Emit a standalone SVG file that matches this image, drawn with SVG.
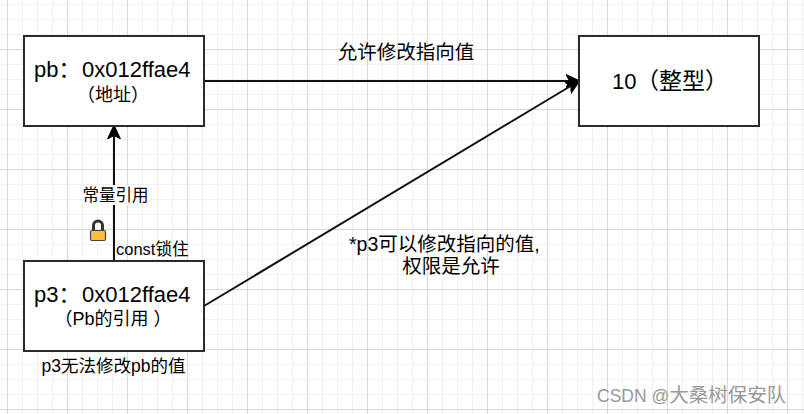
<svg xmlns="http://www.w3.org/2000/svg" width="804" height="414" viewBox="0 0 804 414">
<defs>
<pattern id="minor" width="15" height="15" patternUnits="userSpaceOnUse" x="7" y="4"><path d="M0.5 0V15M0 0.5H15" fill="none" stroke="#f1f1f1" stroke-width="1"/></pattern>
<pattern id="major" width="60" height="60" patternUnits="userSpaceOnUse" x="7" y="49"><path d="M0.5 0V60M0 0.5H60" fill="none" stroke="#d9d9d9" stroke-width="1"/></pattern>
<marker id="arrow" markerWidth="15" markerHeight="15" refX="13" refY="7" orient="auto" markerUnits="userSpaceOnUse" viewBox="0 0 15 14"><path d="M0 0.500L14 7L0 13.500L3.500 7Z" fill="#000" stroke="#000" stroke-width="1"/></marker>
</defs>
<style>
text{font-family:"Liberation Sans","Noto Sans CJK SC",sans-serif;fill:#000;text-anchor:middle}
.box{fill:#fff;stroke:#2b2b2b;stroke-width:2}
.big{font-size:22px;text-anchor:start}
.sub{font-size:18px}
.small{font-size:16.500px}
.note{font-size:19.500px}
.edge{fill:none;stroke:#111;stroke-width:2;marker-end:url(#arrow)}
</style>
<rect width="804" height="414" fill="#fff"/>
<rect id="grid-minor" width="804" height="414" fill="url(#minor)"/>
<rect id="grid-major" width="804" height="414" fill="url(#major)"/>
<g id="connectors">
<path class="edge" d="M204 81H579"/>
<path class="edge" d="M204 306L579 81"/>
<path class="edge" d="M114 261V126"/>
</g>
<g id="node-pb"><rect class="box" x="24" y="36" width="180" height="90"/><text class="big" x="34" y="77">pb：<tspan x="82">0x012ffae4</tspan></text><text class="sub" x="113" y="101">（地址）</text></g>
<g id="node-p3"><rect class="box" x="24" y="261" width="180" height="90"/><text class="big" x="34" y="302">p3：<tspan x="82">0x012ffae4</tspan></text><text class="sub" x="113" y="325">（Pb的引用 ）</text></g>
<g id="node-int"><rect class="box" x="579" y="36" width="180" height="90"/><text class="big" x="612" y="89">10<tspan x="636" font-size="23">（整型）</tspan></text></g>
<g id="labels">
<text class="note" x="406" y="59">允许修改指向值</text>
<rect x="82" y="185" width="67" height="20" fill="#fff"/>
<text class="small" x="115.500" y="201">常量引用</text>
<text class="small" x="116" y="255" style="text-anchor:start">const锁住</text>
<text x="113.500" y="372" font-size="17.500">p3无法修改pb的值</text>
<text class="note" x="349" y="251" style="text-anchor:start">*p3可以修改指向的值,</text>
<text class="note" x="451" y="273">权限是允许</text>
</g>
<g id="lock">
<path d="M93.500 231V225.500A4.500 4.500 0 0 1 102.500 225.500V231" fill="none" stroke="#333" stroke-width="3"/>
<rect x="90.500" y="230.500" width="15" height="10" rx="1.500" fill="#fbbf3c" stroke="#444" stroke-width="1.200"/>
</g>
<text x="597" y="402" font-size="17.500" style="fill:#999;text-anchor:start">CSDN @<tspan font-size="19.500">大桑树保安队</tspan></text>
</svg>
